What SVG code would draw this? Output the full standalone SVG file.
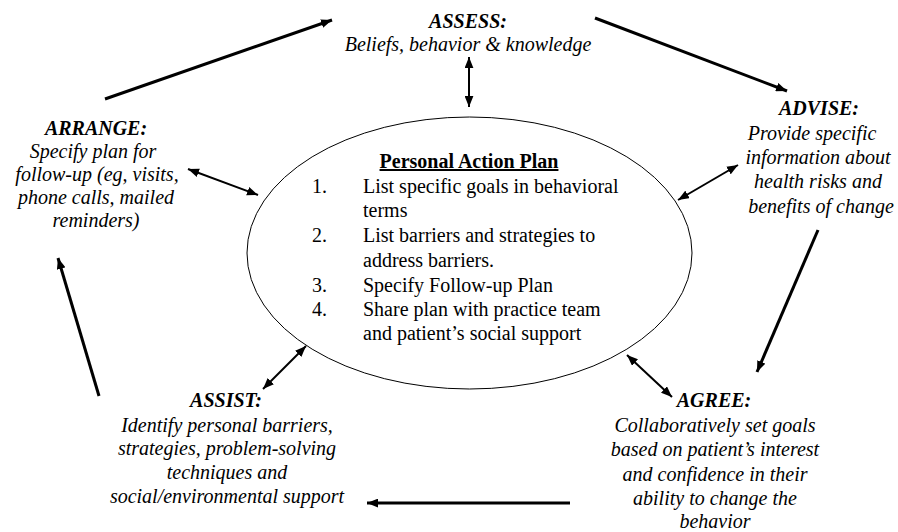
<svg xmlns="http://www.w3.org/2000/svg" width="898" height="532" viewBox="0 0 898 532">
  <defs>
    <marker id="head" viewBox="0 0 10 8" refX="10" refY="4" markerWidth="11" markerHeight="9" markerUnits="userSpaceOnUse" orient="auto-start-reverse">
      <path d="M0,0 L10,4 L0,8 Z" fill="#000"/>
    </marker>
  </defs>
  <style>
    text { font-family: "Liberation Serif", "Times New Roman", serif; font-size: 20px; fill: #000; }
    .title { font-weight: bold; font-style: italic; }
    .desc { font-style: italic; }
    .plan-title { font-weight: bold; text-decoration: underline; }
    .cycle { stroke: #000; stroke-width: 3; fill: none; marker-end: url(#head); }
    .link { stroke: #000; stroke-width: 2; fill: none; marker-start: url(#head); marker-end: url(#head); }
  </style>
  <rect width="898" height="532" fill="#fff"/>

  <g id="connectors">
    <!-- outer cycle: Assess, Advise, Agree, Assist, Arrange -->
    <line class="cycle" x1="105" y1="99" x2="332" y2="20"/>
    <line class="cycle" x1="595" y1="18" x2="787" y2="91"/>
    <line class="cycle" x1="818" y1="230" x2="757" y2="372"/>
    <line class="cycle" x1="570" y1="503" x2="367" y2="503"/>
    <line class="cycle" x1="99" y1="396" x2="58" y2="258"/>
    <!-- two-way links between each step and the plan -->
    <line class="link" x1="469" y1="57" x2="469" y2="107"/>
    <line class="link" x1="188" y1="169" x2="258" y2="195"/>
    <line class="link" x1="678" y1="200" x2="738" y2="165"/>
    <line class="link" x1="627" y1="355" x2="672" y2="397"/>
    <line class="link" x1="306" y1="346" x2="263" y2="389"/>
  </g>

  <g id="plan">
    <ellipse cx="469.5" cy="253" rx="222.5" ry="136" fill="none" stroke="#000" stroke-width="1"/>
    <text class="plan-title" x="469" y="168" text-anchor="middle">Personal Action Plan</text>
    <text x="312" y="193">1.</text>
    <text x="363" y="193">List specific goals in behavioral</text>
    <text x="363" y="217">terms</text>
    <text x="312" y="242">2.</text>
    <text x="363" y="242">List barriers and strategies to</text>
    <text x="363" y="267">address barriers.</text>
    <text x="312" y="292">3.</text>
    <text x="363" y="292">Specify Follow-up Plan</text>
    <text x="312" y="316">4.</text>
    <text x="363" y="316">Share plan with practice team</text>
    <text x="363" y="340">and patient’s social support</text>
  </g>

  <g id="assess" text-anchor="middle">
    <text class="title" x="468" y="28">ASSESS:</text>
    <text class="desc" x="468" y="51">Beliefs, behavior &amp; knowledge</text>
  </g>

  <g id="advise" text-anchor="middle">
    <text class="title" x="819" y="115">ADVISE:</text>
    <text class="desc" x="812" y="140">Provide specific</text>
    <text class="desc" x="818" y="164">information about</text>
    <text class="desc" x="818" y="188">health risks and</text>
    <text class="desc" x="821" y="213">benefits of change</text>
  </g>

  <g id="agree" text-anchor="middle">
    <text class="title" x="714" y="407">AGREE:</text>
    <text class="desc" x="715" y="432">Collaboratively set goals</text>
    <text class="desc" x="715" y="456">based on patient’s interest</text>
    <text class="desc" x="715" y="481">and confidence in their</text>
    <text class="desc" x="715" y="505">ability to change the</text>
    <text class="desc" x="715" y="528">behavior</text>
  </g>

  <g id="assist" text-anchor="middle">
    <text class="title" x="226" y="407">ASSIST:</text>
    <text class="desc" x="227" y="432">Identify personal barriers,</text>
    <text class="desc" x="227" y="455">strategies, problem-solving</text>
    <text class="desc" x="227" y="479">techniques and</text>
    <text class="desc" x="227" y="503">social/environmental support</text>
  </g>

  <g id="arrange" text-anchor="middle">
    <text class="title" x="96" y="135">ARRANGE:</text>
    <text class="desc" x="93" y="158">Specify plan for</text>
    <text class="desc" x="97" y="181">follow-up (eg, visits,</text>
    <text class="desc" x="96" y="204">phone calls, mailed</text>
    <text class="desc" x="96" y="227">reminders)</text>
  </g>
</svg>
